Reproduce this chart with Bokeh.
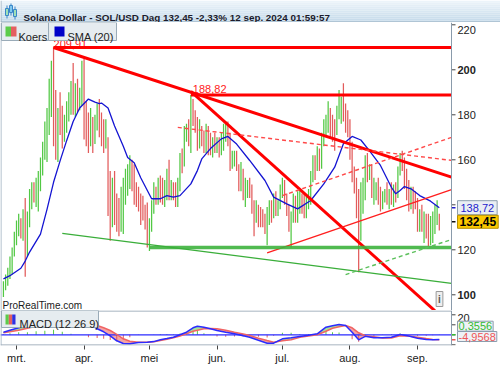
import numpy as np
import pandas as pd
from bokeh.plotting import figure
from bokeh.models import Range1d, FixedTicker, Label, BoxAnnotation, Span
from bokeh.layouts import column
from bokeh.embed import file_html
from bokeh.resources import INLINE

FONT = "Liberation Sans"

# ---------------- data: daily SOL/USD bars (high / low / up=green) ----------------
first_bar = "2024-02-24"
highs_feb = [106, 109, 112, 117, 121, 128]
lows_feb = [99, 102, 104, 107, 109, 117]
up_feb = [1, 1, 1, 1, 1, 1]
highs_mar = [133, 136, 134, 138, 143, 137, 147, 150, 150, 152, 155, 161, 168, 177, 183, 196, 204, 210, 191, 183,
             190, 184, 180, 186, 190, 195, 203, 194, 196, 192, 204]
lows_mar = [122, 126, 125, 124, 108, 117, 130, 138, 141, 139, 137, 146, 153, 160, 159, 171, 179, 166, 160, 159,
            171, 165, 168, 172, 177, 180, 180, 179, 181, 182, 184]
up_mar = [1, 1, 0, 1, 0, 1, 1, 1, 0, 1, 1, 1, 1, 1, 1, 1, 1, 0, 0, 1, 0, 0, 1, 1, 1, 1, 0, 1, 0, 1, 1]
highs_apr = [205, 186, 181, 183, 179, 180, 185, 187, 181, 178, 178, 170, 155, 152, 155, 145, 143, 148, 152, 156,
             158, 162, 160, 158, 150, 148, 145, 144, 140, 141]
lows_apr = [169, 166, 163, 166, 163, 167, 173, 170, 166, 163, 165, 135, 124, 130, 131, 128, 126, 128, 127, 140,
            144, 147, 146, 140, 139, 137, 131, 133, 129, 121]
up_apr = [0, 0, 0, 1, 0, 1, 1, 0, 0, 0, 1, 0, 0, 1, 0, 0, 0, 1, 1, 1, 1, 1, 0, 0, 0, 0, 0, 0, 0, 0]
highs_may = [134, 142, 150, 148, 152, 153, 152, 151, 156, 160, 151, 150, 150, 152, 163, 165, 175, 176, 178, 188.82,
             187, 182, 179, 178, 175, 173, 176, 175, 172, 170, 172]
lows_may = [119.5, 128, 136, 140, 140, 141, 140, 139, 142, 142, 142, 142, 139, 139, 146, 154, 157, 168, 166, 163,
            175, 172, 164, 165, 166, 163, 163, 162, 162, 161, 163]
up_may = [1, 1, 1, 0, 1, 0, 0, 1, 1, 0, 1, 0, 0, 1, 1, 0, 1, 1, 0, 1, 0, 0, 0, 1, 0, 0, 1, 0, 0, 1, 0]
highs_jun = [170, 170, 172, 176, 177, 177, 172, 164, 164, 164, 158, 159, 156, 152, 151, 152, 149, 142, 142, 140,
             139, 138, 136, 139, 142, 142, 145, 146, 142, 149]
lows_jun = [163, 161, 162, 164, 168, 166, 155, 156, 157, 155, 146, 146, 142, 139, 143, 143, 136, 126, 132, 130,
            130, 130, 127, 122, 131, 132, 134, 135, 135, 138]
up_jun = [1, 0, 1, 1, 1, 0, 0, 1, 1, 0, 0, 1, 0, 1, 1, 0, 0, 0, 1, 0, 0, 0, 0, 1, 1, 0, 1, 0, 1, 1]
highs_jul = [152, 151, 145, 140, 137, 145, 144, 146, 147, 145, 145, 144, 147, 155, 162, 162, 166, 165, 172, 178,
             180, 186, 183, 180, 178, 184, 191, 188, 194, 185, 182]
lows_jul = [143, 140, 135, 128, 121, 132, 132, 132, 136, 136, 134, 134, 138, 140, 150, 151, 155, 155, 156, 166,
            170, 172, 170, 168, 164, 171, 178, 176, 177, 172, 170]
up_jul = [1, 0, 0, 0, 1, 1, 0, 1, 1, 0, 0, 1, 1, 1, 1, 0, 1, 0, 1, 1, 1, 1, 0, 0, 0, 1, 1, 1, 0, 0, 0]
highs_aug = [178, 168, 157, 152, 147, 150, 152, 162, 163, 158, 158, 152, 150, 152, 148, 146, 147, 150, 147, 150,
             149, 150, 157, 163, 164, 161, 156, 151, 148, 148, 146]
lows_aug = [160, 150, 145, 134, 110, 124, 136, 142, 150, 151, 143, 140, 142, 140, 137, 138, 141, 140, 138, 140,
            139, 141, 143, 153, 155, 147, 142, 137, 138, 136, 138]
up_aug = [0, 0, 0, 0, 0, 1, 1, 1, 0, 1, 0, 1, 1, 0, 0, 1, 1, 0, 1, 0, 1, 0, 1, 1, 0, 0, 0, 0, 1, 0, 0]
highs_sep = [143, 138, 140, 137, 136, 136, 135, 137, 140, 142, 136]
lows_sep = [128, 128, 128, 123, 125, 121, 122, 123, 127, 131, 128.6]
up_sep = [0, 1, 0, 1, 0, 0, 1, 1, 1, 1, 0]

highs = highs_feb + highs_mar + highs_apr + highs_may + highs_jun + highs_jul + highs_aug + highs_sep
lows = lows_feb + lows_mar + lows_apr + lows_may + lows_jun + lows_jul + lows_aug + lows_sep
up = up_feb + up_mar + up_apr + up_may + up_jun + up_jul + up_aug + up_sep
assert len(highs) == len(lows) == len(up)

last_close = 132.45
change_pct = -2.33
stamp = "12 sep. 2024 01:59:57"

# SMA (20)
sma_dates = ["2024-02-24", "2024-02-27", "2024-03-03", "2024-03-05", "2024-03-07", "2024-03-12", "2024-03-15",
             "2024-03-18", "2024-03-21", "2024-03-24", "2024-03-27", "2024-03-30", "2024-04-03", "2024-04-06",
             "2024-04-08", "2024-04-09", "2024-04-12", "2024-04-15", "2024-04-19", "2024-04-21", "2024-04-24",
             "2024-04-27", "2024-05-02", "2024-05-06", "2024-05-09", "2024-05-12", "2024-05-15", "2024-05-20",
             "2024-05-23", "2024-05-25", "2024-05-29", "2024-06-03", "2024-06-06", "2024-06-10", "2024-06-16",
             "2024-06-23", "2024-06-27", "2024-07-03", "2024-07-08", "2024-07-14", "2024-07-20", "2024-07-25",
             "2024-07-29", "2024-08-02", "2024-08-06", "2024-08-10", "2024-08-15", "2024-08-20", "2024-08-22",
             "2024-08-24", "2024-08-26", "2024-08-29", "2024-09-02", "2024-09-07", "2024-09-11"]
sma_values = [107.1, 108.5, 111.8, 115.0, 119.0, 127.0, 138.0, 150.0, 159.5, 168.5, 177.0, 183.0, 187.0, 185.6,
              185.0, 185.2, 183.0, 175.0, 166.0, 161.0, 158.7, 152.0, 142.7, 142.7, 144.1, 143.4, 144.1, 149.3,
              155.2, 160.4, 165.0, 169.3, 170.4, 167.0, 159.7, 150.8, 143.4, 140.4, 138.2, 141.9, 149.3, 156.7,
              167.1, 170.4, 168.8, 164.0, 157.5, 147.8, 144.9, 146.4, 148.1, 147.1, 144.1, 141.6, 138.72]

# MACD (12 26 9)
macd_dates = ["2024-02-24", "2024-02-27", "2024-03-02", "2024-03-06", "2024-03-10", "2024-03-14", "2024-03-18",
              "2024-03-22", "2024-03-26", "2024-03-30", "2024-04-03", "2024-04-07", "2024-04-10", "2024-04-13",
              "2024-04-16", "2024-04-19", "2024-04-22", "2024-04-26", "2024-04-30", "2024-05-03", "2024-05-06",
              "2024-05-09", "2024-05-12", "2024-05-15", "2024-05-18", "2024-05-21", "2024-05-23", "2024-05-26",
              "2024-05-29", "2024-06-01", "2024-06-05", "2024-06-09", "2024-06-13", "2024-06-16", "2024-06-20",
              "2024-06-24", "2024-06-27", "2024-07-01", "2024-07-05", "2024-07-09", "2024-07-13", "2024-07-17",
              "2024-07-21", "2024-07-24", "2024-07-27", "2024-07-30", "2024-08-02", "2024-08-05", "2024-08-08",
              "2024-08-12", "2024-08-16", "2024-08-20", "2024-08-24", "2024-08-28", "2024-09-01", "2024-09-05",
              "2024-09-08", "2024-09-11"]
macd_values = [2.6, 4.5, 7.0, 9.0, 12.0, 15.0, 19.0, 19.0, 18.0, 17.0, 12.0, 6.0, 3.0, -1.0, -6.0, -8.7, -9.0,
               -7.6, -7.4, -6.8, -5.0, -3.8, -2.4, 0.0, 2.6, 7.0, 8.6, 7.5, 6.0, 4.3, 2.5, 1.0, -1.0, -2.4, -5.5,
               -8.4, -8.4, -4.0, -3.0, -1.7, -0.5, 1.0, 7.6, 9.0, 10.3, 9.3, 2.6, -5.0, -1.5, -3.0, -3.0, -2.4,
               0.3, -1.2, -3.5, -4.8, -5.0, -4.6012]
signal_values = [2.0, 3.0, 4.5, 6.5, 8.5, 11.0, 14.0, 16.0, 17.0, 17.0, 14.5, 9.3, 7.0, 4.3, 0.5, -4.0, -6.5,
                 -7.4, -7.4, -7.0, -5.7, -4.5, -3.0, -1.2, 1.0, 3.5, 4.5, 6.0, 6.2, 6.0, 4.5, 2.6, 0.8, -0.7, -3.5,
                 -5.8, -7.4, -6.0, -5.0, -2.4, -1.2, 0.0, 3.5, 6.5, 8.0, 9.3, 7.0, 2.0, -1.0, -2.0, -3.2, -3.2,
                 -1.0, -1.2, -2.5, -3.8, -4.6, -4.9568]
assert len(macd_dates) == len(macd_values) == len(signal_values)

# drawn levels and trend lines (date pairs, price pairs)
ath_date, ath_price = "2024-03-18", 209.91
peak_date, peak_price = "2024-05-20", 188.82
support_date, support_price = "2024-05-01", 121.0
line_end = "2024-09-17"
fan_dates, fan_prices = ["2024-03-18", "2024-09-17"], [209.91, 152.2]
steep_dates, steep_prices = ["2024-05-20", "2024-09-09"], [190.4, 92.9]
rise_dates, rise_prices = ["2024-06-24", "2024-09-17"], [118.6, 146.9]
dash_dn_dates, dash_dn_prices = ["2024-05-14", "2024-09-17"], [174.4, 159.7]
dash_up_dates, dash_up_prices = ["2024-07-01", "2024-09-17"], [144.1, 170.1]
gthin_dates, gthin_prices = ["2024-03-22", "2024-09-17"], [127.3, 105.0]
gdash_dates, gdash_prices = ["2024-07-30", "2024-09-17"], [109.0, 124.7]

month_starts = ["2024-03-01", "2024-04-01", "2024-05-01", "2024-06-01", "2024-07-01", "2024-08-01", "2024-09-01"]
month_labels = ["mrt.", "apr.", "mei", "jun.", "jul.", "aug.", "sep."]
price_ticks = [100, 120, 140, 160, 180, 200, 220]
bold_ticks = [100, 200]
macd_ticks = [-10, 0, 10, 20]
macd_label_ticks = [20]

# ---------------- helpers ----------------
ORIGIN = pd.Timestamp("2024-03-01")


def day(s):
    return (pd.Timestamp(s) - ORIGIN).days


def days(lst):
    return [day(s) for s in lst]


def nl(v, nd=2):
    return f"{v:.{nd}f}".replace(".", ",")


W = 500
PXD = 2.1794                   # px per day
PXU = 2.25                     # px per price unit
X0PX = 16                      # page x of 1 March
XL, XR = (0 - X0PX) / PXD, (W - X0PX) / PXD
XA = (451 - X0PX) / PXD        # price scale position
MTOP, MBOT = 22, 310           # main frame top/bottom (page px)
YT = 200 + (69.3 - MTOP) / PXU
YB = YT - (MBOT - MTOP) / PXU
QTOP, QBOT = 310, 345          # macd frame top/bottom (page px)
MT, MB = 24.3, -10.7


def mx(px):
    return (px - X0PX) / PXD


def my(py):
    return YT - (py - MTOP) / PXU


def qy(py):
    return MT - (py - QTOP) / (QBOT - QTOP) * (MT - MB)


def to_axis(dts, prices):
    x0, x1 = days(dts)
    y0, y1 = prices
    if x1 > XA:
        y1 = y0 + (y1 - y0) * (XA - x0) / (x1 - x0)
        x1 = XA
    return [x0, x1], [y0, y1]


def add_box(fig, x0, x1, y0, y1, fill, line="#9aabb8"):
    fig.add_layout(BoxAnnotation(left=x0, right=x1, top=y0, bottom=y1, fill_color=fill, fill_alpha=1.0,
                                 line_color=line if line else "white", line_alpha=1.0 if line else 0.0,
                                 line_width=1, level="overlay"))


def add_label(fig, x, y, text, size="11px", color="#222222", style="normal", align="left",
              baseline="alphabetic", level="overlay", **kw):
    fig.add_layout(Label(x=x, y=y, text=text, text_font=FONT, text_font_size=size, text_color=color,
                         text_font_style=style, text_align=align, text_baseline=baseline, level=level, **kw))


GREEN = "#52c844"
RED = "#e25b5b"
AXIS = "#8a9bab"

# ---------------- title bar ----------------
t = figure(width=W, height=22, x_range=Range1d(0, W), y_range=Range1d(22, 0), toolbar_location=None,
           output_backend="svg", min_border=0, x_axis_location=None, y_axis_location=None,
           outline_line_color=None)
t.grid.visible = False
top_rgb, bot_rgb = np.array([236, 244, 250]), np.array([196, 218, 234])
nb = 11
band_cols = ["#%02x%02x%02x" % tuple((top_rgb + (bot_rgb - top_rgb) * i / (nb - 1)).astype(int)) for i in range(nb)]
edges = np.linspace(0, 22, nb + 1)
t.quad(left=0, right=W, top=edges[:-1], bottom=edges[1:], fill_color=band_cols, line_color=None)
t.segment(x0=0, y0=21.5, x1=W, y1=21.5, line_color="#9db0c0", line_width=1)
t.segment(x0=0.5, y0=0, x1=0.5, y1=22, line_color="#9db0c0", line_width=1)
t.segment(x0=[6.5, 10.5, 14.5], y0=[5, 3, 6], x1=[6.5, 10.5, 14.5], y1=[18, 15, 19], line_color="#3a86c8", line_width=1)
t.quad(left=[5, 9, 13], right=[8, 12, 16], top=[8, 5, 9], bottom=[15, 12, 16], fill_color=["#9fe0b8", "#7fc8ef", "#9fe0b8"],
       line_color="#3a86c8", line_width=1)
add_label(t, 23, 17, f"Solana Dollar - SOL/USD Dag {nl(last_close)} {nl(change_pct)}% {stamp}", size="9.85px",
          color="#1b1b2b", style="bold")

# ---------------- main price panel ----------------
p = figure(width=W, height=MBOT - MTOP, x_range=Range1d(XL, XR), y_range=Range1d(YB, YT), toolbar_location=None,
           output_backend="svg", x_axis_location=None, y_axis_location=None, min_border=0,
           outline_line_color=None, background_fill_color="white", border_fill_color="white")
p.grid.visible = False

# level labels sit beneath everything else (the legend strip covers the top one, as in the original)
add_label(p, day(ath_date), ath_price + 3.5 / PXU, nl(ath_price), color="#ff1a1a", level="underlay")
add_label(p, day(peak_date) + 2 / PXD, peak_price + 5.5 / PXU, nl(peak_price), color="#ff1a1a", level="underlay")

bar_x = day(first_bar) + np.arange(len(highs))
bar_cols = [GREEN if u else RED for u in up]
p.segment(x0=bar_x, y0=lows, x1=bar_x, y1=highs, line_color=bar_cols, line_width=1.25)
p.line(days(sma_dates), sma_values, line_color="#1414d2", line_width=1.3)

# support / resistance
for dts, prs, col, lw, dash, alpha in [
    ([ath_date, line_end], [ath_price, ath_price], "#ff0000", 3, "solid", 1.0),
    ([peak_date, line_end], [peak_price, peak_price], "#ff0000", 3, "solid", 1.0),
    (fan_dates, fan_prices, "#ff0000", 3, "solid", 1.0),
    (steep_dates, steep_prices, "#ff0000", 3, "solid", 1.0),
    (rise_dates, rise_prices, "#ff1e1e", 1.3, "solid", 1.0),
    (dash_dn_dates, dash_dn_prices, "#ff4848", 1.4, "4 3", 1.0),
    (dash_up_dates, dash_up_prices, "#ff4848", 1.4, "4 3", 1.0),
    ([support_date, line_end], [support_price, support_price], "#3db23d", 3.5, "solid", 0.9),
    (gthin_dates, gthin_prices, "#3aae3a", 1.3, "solid", 1.0),
    (gdash_dates, gdash_prices, "#5cc05c", 1.4, "4 3", 1.0),
]:
    xs, ys = to_axis(dts, prs)
    p.line(xs, ys, line_color=col, line_width=lw, line_dash=dash, line_alpha=alpha)

# price scale (drawn by hand so that it sits inside the page)
p.add_layout(Span(location=XA, dimension="height", line_color=AXIS, line_width=1))
p.add_layout(Span(location=XL + 0.5 / PXD, dimension="height", line_color="#9db0c0", line_width=1))
p.segment(x0=XA, y0=price_ticks, x1=XA + 4 / PXD, y1=price_ticks, line_color="#444444", line_width=1)
for tk in price_ticks:
    add_label(p, XA + 6 / PXD, tk - (5.5 / PXU if tk == max(price_ticks) else 0), str(tk), color="#222222",
              baseline="middle", style="bold" if tk in bold_ticks else "normal", level="annotation")

# legend strip
add_box(p, mx(1), mx(48), my(22), my(40), "#e6ecf0")
add_box(p, mx(5), mx(10.5), my(26), my(36), "#5ccc4a", None)
add_box(p, mx(10.5), mx(16), my(26), my(36), "#e46060", None)
add_label(p, mx(18), my(36), "Koers")
add_box(p, mx(48), mx(116), my(22), my(40), "#e6ecf0")
add_box(p, mx(54), mx(64), my(26), my(36), "#0000c8", None)
add_label(p, mx(67), my(36), "SMA (20)")

add_label(p, mx(2), my(305), "ProRealTime.com", size="10px", color="#1a1a1a")
add_label(p, mx(439), my(298.5), "i", size="10px", color="#555555", style="bold", align="center", baseline="middle",
          background_fill_color="#eeeeee", border_line_color="#9a9a9a", padding=2)

# value boxes on the scale
p.segment(x0=XA, y0=sma_values[-1], x1=XA + 4 / PXD, y1=sma_values[-1], line_color="#1c1ccc", line_width=1.5)
p.segment(x0=XA, y0=last_close, x1=XA + 4 / PXD, y1=last_close, line_color="#111111", line_width=1.5)
add_label(p, XA + 6 / PXD, sma_values[-1], nl(sma_values[-1]), color="#1c1ccc", baseline="middle",
          background_fill_color="#e9eef3", border_line_color="#8c9dad", padding=3)
add_label(p, XA + 6 / PXD, last_close, nl(last_close), size="12px", color="#000000", style="bold",
          baseline="middle", background_fill_color="#fcc800", border_line_color="#b58f00", padding=2)

# ---------------- MACD panel ----------------
m = figure(width=W, height=56, x_range=p.x_range, y_range=Range1d(MB, MT), toolbar_location=None,
           output_backend="svg", y_axis_location=None, min_border_left=0, min_border_right=0,
           min_border_top=0, min_border_bottom=21, outline_line_color=None,
           background_fill_color="white", border_fill_color="white")
m.grid.visible = False
qx = np.array(days(macd_dates))
mv = np.array(macd_values)
sv = np.array(signal_values)
hist = mv - sv
m.varea(x=qx, y1=sv, y2=np.maximum(mv, sv), fill_color="#a3e49c", fill_alpha=1)
m.varea(x=qx, y1=np.minimum(mv, sv), y2=sv, fill_color="#f4a4a4", fill_alpha=1)
m.vbar(x=qx, bottom=0, top=hist, width=0.45, fill_color=[GREEN if h >= 0 else RED for h in hist],
       line_color=None)
m.segment(x0=XL, y0=0, x1=XA, y1=0, line_color="#2b2bff", line_width=1.2)
m.line(qx, sv, line_color="#f06464", line_width=1.5)
m.line(qx, mv, line_color="#2b2bff", line_width=1.5)

# frame lines
m.segment(x0=XL, y0=qy(310.5), x1=XA, y1=qy(310.5), line_color=AXIS, line_width=1)
m.segment(x0=XL, y0=qy(344.5), x1=XA, y1=qy(344.5), line_color=AXIS, line_width=1)
m.add_layout(Span(location=XA, dimension="height", line_color=AXIS, line_width=1))
m.add_layout(Span(location=XL + 0.5 / PXD, dimension="height", line_color="#9db0c0", line_width=1))

xa = m.xaxis[0]
month_x = days(month_starts)
xa.ticker = FixedTicker(ticks=month_x)
xa.major_label_overrides = {mxv: lab for mxv, lab in zip(month_x, month_labels)}
xa.major_label_text_font = FONT
xa.major_label_text_font_size = "11px"
xa.major_label_text_color = "#222222"
xa.major_tick_out = 4
xa.major_tick_in = 0
xa.minor_tick_out = 0
xa.minor_tick_in = 0
xa.major_label_standoff = 2
xa.axis_line_color = None
xa.major_tick_line_color = "#444444"

m.segment(x0=XA, y0=macd_ticks, x1=XA + 4 / PXD, y1=macd_ticks, line_color="#444444", line_width=1)
for tk in macd_label_ticks:
    add_label(m, XA + 6 / PXD, tk - 2.7, str(tk), baseline="middle", level="annotation")

add_box(m, mx(1), mx(98), qy(310), qy(327), "#e6ecf0")
add_box(m, mx(5), mx(8.3), qy(314), qy(324), "#5ccc4a", None)
add_box(m, mx(8.3), mx(11.7), qy(314), qy(324), "#e46060", None)
add_box(m, mx(11.7), mx(15), qy(314), qy(324), "#3030e0", None)
add_label(m, mx(19), qy(323.5), "MACD (12 26 9)")

m.segment(x0=XA, y0=0, x1=XA + 4 / PXD, y1=0, line_color="#33bb33", line_width=1.5)
m.segment(x0=XA, y0=signal_values[-1], x1=XA + 4 / PXD, y1=signal_values[-1], line_color="#ee5555", line_width=1.5)
add_label(m, XA + 6 / PXD, qy(325.7), nl(hist[-1], 4), color="#33bb33", baseline="middle",
          background_fill_color="#eef2f6", border_line_color="#8c9dad", padding=1)
add_label(m, XA + 6 / PXD, qy(336), nl(signal_values[-1], 4), color="#ee5555", baseline="middle",
          background_fill_color="#eef2f6", border_line_color="#8c9dad", padding=1)

layout = column(t, p, m, spacing=0)
open("out.html", "w").write(file_html(layout, INLINE))
